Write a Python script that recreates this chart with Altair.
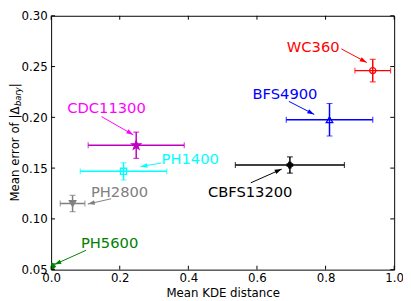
import altair as alt
import pandas as pd
import numpy as np

# ---- data ----
names = ["WC360", "BFS4900", "CBFS13200", "CDC11300", "PH1400", "PH2800", "PH5600"]
kde_mean = [0.9375, 0.8115, 0.696, 0.248, 0.211, 0.0625, 0.003]
kde_err = [0.052, 0.126, 0.159, 0.140, 0.126, 0.036, 0.004]
bary_mean = [0.246, 0.1976, 0.153, 0.1725, 0.1468, 0.1151, 0.053]
bary_err = [0.011, 0.016, 0.008, 0.013, 0.0085, 0.008, 0.003]

# annotation anchors (data coordinates)
label_x = [0.687, 0.587, 0.457, 0.047, 0.322, 0.116, 0.087]
label_y = [0.264, 0.2185, 0.1214, 0.2039, 0.1543, 0.1214, 0.0713]
arrow_x0 = [0.846, 0.693, 0.582, 0.147, 0.321, 0.175, 0.102]
arrow_y0 = [0.2674, 0.2157, 0.1355, 0.2007, 0.155, 0.1198, 0.0691]
arrow_x1 = [0.920, 0.767, 0.672, 0.2395, 0.2605, 0.107, 0.0094]
arrow_y1 = [0.254, 0.2029, 0.149, 0.1828, 0.1515, 0.1146, 0.055]

x_ticks = [0.0, 0.2, 0.4, 0.6, 0.8, 1.0]
y_ticks = [0.05, 0.10, 0.15, 0.20, 0.25, 0.30]

# ---- styles ----
bar_colors = ["#ff0000", "#0000ff", "#000000", "#bf00bf", "#00ffff", "#808080", "#008000"]
text_colors = ["#ff0000", "#0000ff", "#000000", "#ff00ff", "#00ffff", "#808080", "#008000"]
star = "M0,-1L0.235,-0.324L0.951,-0.309L0.38,0.124L0.588,0.809L0,0.4L-0.588,0.809L-0.38,0.124L-0.951,-0.309L-0.235,-0.324Z"
shapes = ["circle", "triangle-up", "cross", star, "square", "triangle-down", "diamond"]
fills = ["transparent", "transparent", "#000000", "#bf00bf", "transparent", "#808080", "#008000"]
sizes = [40, 45, 30, 90, 40, 45, 40]

W, H = 350, 259
FONT = "DejaVu Sans"

df = pd.DataFrame({
    "name": names, "x": kde_mean, "xerr": kde_err, "y": bary_mean, "yerr": bary_err,
    "color": bar_colors, "tcolor": text_colors, "shape": shapes, "fill": fills, "size": sizes,
    "lx": label_x, "ly": label_y, "ax0": arrow_x0, "ay0": arrow_y0, "ax1": arrow_x1, "ay1": arrow_y1,
})
df["xlo"] = df["x"] - df["xerr"]
df["xhi"] = df["x"] + df["xerr"]
df["ylo"] = df["y"] - df["yerr"]
df["yhi"] = df["y"] + df["yerr"]
dxp = (df["ax1"] - df["ax0"]) * W
dyp = -(df["ay1"] - df["ay0"]) * H / 0.25
df["ang"] = (np.degrees(np.arctan2(dxp, -dyp)) + 360) % 360

xs = alt.Scale(domain=[0, 1], nice=False, zero=False, padding=0)
ys = alt.Scale(domain=[0.05, 0.30], nice=False, zero=False, padding=0)
xax = alt.Axis(values=x_ticks, format=".1f", title="Mean KDE distance", labelPadding=3,
               titlePadding=4, labelFlush=False)
yax = alt.Axis(values=y_ticks, format=".2f", title=None, labelPadding=4, labelFlush=False)

def X(f):
    return alt.X(f, type="quantitative", scale=xs, axis=xax)

def Y(f):
    return alt.Y(f, type="quantitative", scale=ys, axis=yax)

base = alt.Chart(df)
col = alt.Color("color:N", scale=None)

hbar = base.mark_rule(strokeWidth=1.5, clip=True).encode(x=X("xlo"), x2="xhi", y=Y("y"), color=col)
vbar = base.mark_rule(strokeWidth=1.5, clip=True).encode(x=X("x"), y=Y("ylo"), y2="yhi", color=col)
cap_l = base.mark_tick(orient="vertical", size=6, thickness=1.2, clip=True).encode(x=X("xlo"), y=Y("y"), color=col)
cap_r = base.mark_tick(orient="vertical", size=6, thickness=1.2, clip=True).encode(x=X("xhi"), y=Y("y"), color=col)
cap_b = base.mark_tick(orient="horizontal", size=6, thickness=1.2, clip=True).encode(x=X("x"), y=Y("ylo"), color=col)
cap_t = base.mark_tick(orient="horizontal", size=6, thickness=1.2, clip=True).encode(x=X("x"), y=Y("yhi"), color=col)
pts = base.mark_point(strokeWidth=1.3, opacity=1, fillOpacity=1, clip=True).encode(
    x=X("x"), y=Y("y"),
    shape=alt.Shape("shape:N", scale=None),
    stroke=alt.Stroke("color:N", scale=None),
    fill=alt.Fill("fill:N", scale=None),
    size=alt.Size("size:Q", scale=None),
)

arrows = base.mark_rule(strokeWidth=1).encode(
    x=X("ax0"), x2="ax1", y=Y("ay0"), y2="ay1", color=alt.Color("tcolor:N", scale=None))
heads = base.mark_point(shape="M0,0L-0.33,1L0.33,1Z", filled=True, opacity=1, size=200).encode(
    x=X("ax1"), y=Y("ay1"), angle=alt.Angle("ang:Q", scale=None),
    color=alt.Color("tcolor:N", scale=None))
labels = base.mark_text(align="left", baseline="alphabetic", font=FONT, fontSize=15).encode(
    x=X("lx"), y=Y("ly"), text="name:N", color=alt.Color("tcolor:N", scale=None))

# inward ticks on all four sides
xt = alt.Chart(pd.DataFrame({"t": x_ticks}))
yt = alt.Chart(pd.DataFrame({"t": y_ticks}))
tb = xt.mark_rule(color="black", strokeWidth=1).encode(x=X("t"), y=alt.value(H), y2=alt.value(H - 4))
tt = xt.mark_rule(color="black", strokeWidth=1).encode(x=X("t"), y=alt.value(0), y2=alt.value(4))
tl = yt.mark_rule(color="black", strokeWidth=1).encode(y=Y("t"), x=alt.value(0), x2=alt.value(4))
tr = yt.mark_rule(color="black", strokeWidth=1).encode(y=Y("t"), x=alt.value(W), x2=alt.value(W - 4))

# y-axis title with subscript
one = alt.Chart(pd.DataFrame({"a": [0]}))
TX = -33
t1 = one.mark_text(angle=270, align="left", baseline="alphabetic", font=FONT, fontSize=12, color="black").encode(
    x=alt.value(TX), y=alt.value(H / 2 + 60), text=alt.value("Mean error of |Δ"))
t2 = one.mark_text(angle=270, align="left", baseline="alphabetic", font=FONT, fontSize=8.5, fontStyle="italic", color="black").encode(
    x=alt.value(TX + 2.5), y=alt.value(H / 2 + 60 - 97.5), text=alt.value("bary"))
t3 = one.mark_text(angle=270, align="left", baseline="alphabetic", font=FONT, fontSize=12, color="black").encode(
    x=alt.value(TX), y=alt.value(H / 2 + 60 - 97.5 - 19), text=alt.value("|"))

chart = alt.layer(
    hbar, vbar, cap_l, cap_r, cap_b, cap_t, pts, arrows, heads, labels,
    tb, tt, tl, tr, t1, t2, t3,
).properties(
    width=W, height=H, autosize=alt.AutoSizeParams(type="none"),
    padding={"left": 44, "top": 5, "right": 9, "bottom": 27},
).configure_view(
    stroke="black", strokeWidth=1
).configure_axis(
    labelFont=FONT, labelFontSize=12, labelColor="black", titleFont=FONT, titleFontSize=12,
    titleFontWeight="normal", titleColor="black", domain=False, ticks=False, grid=False,
)

chart.save("out.html", embed_options={"renderer": "svg", "actions": False})
